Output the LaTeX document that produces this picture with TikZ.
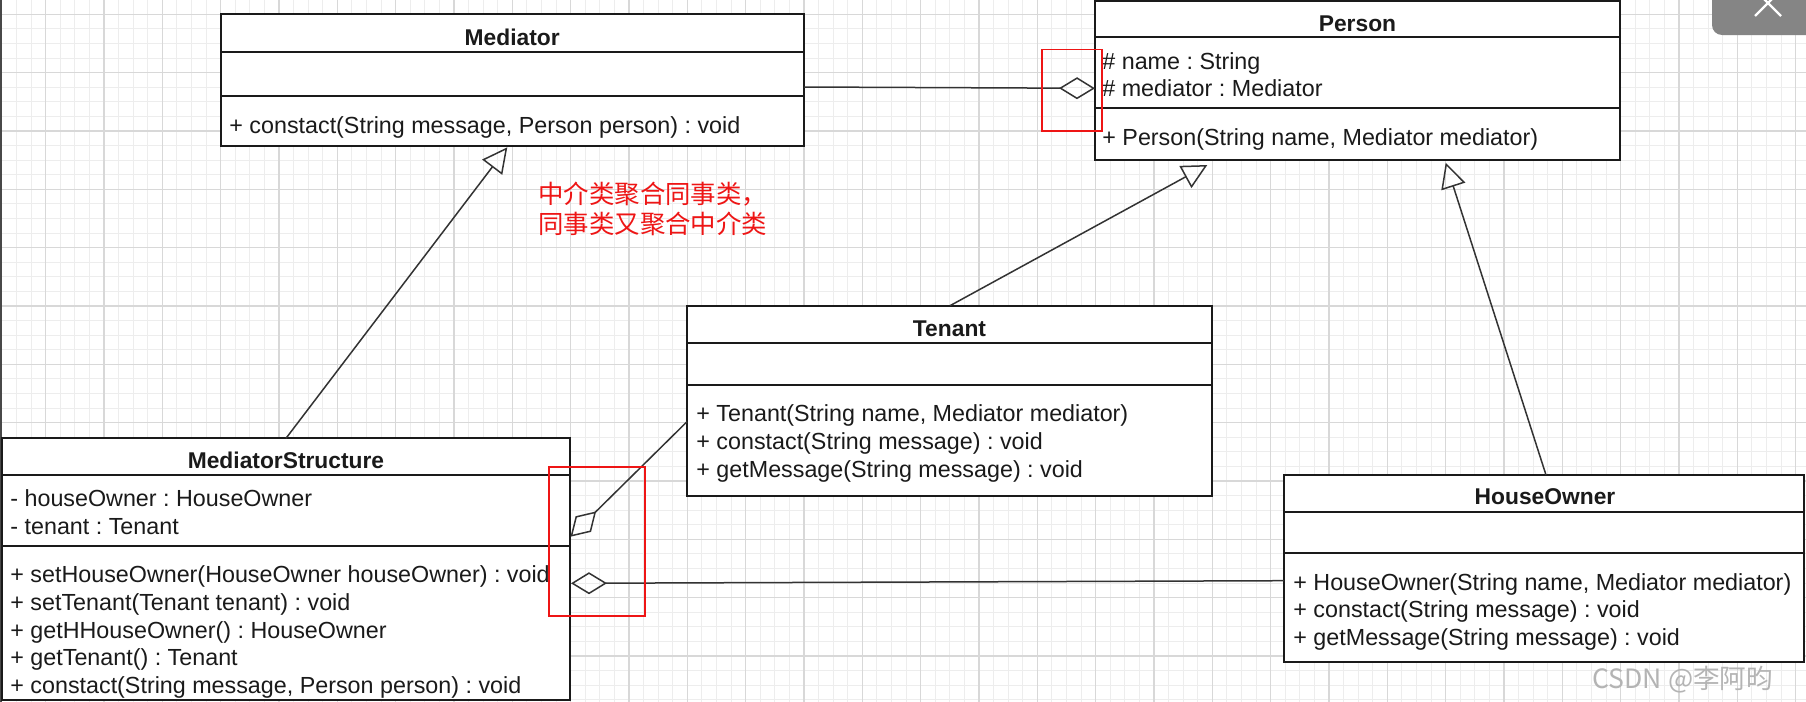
\documentclass[tikz,border=0pt]{standalone}
\usepackage{fontspec}
\setmainfont{Liberation Sans}
\newfontfamily\cjk{Noto Sans CJK SC}
\usetikzlibrary{arrows.meta,calc}
\definecolor{gridminor}{HTML}{EDEDED}
\definecolor{gridmajor}{HTML}{D8D8D8}
\definecolor{ink}{HTML}{1A1A1A}
\definecolor{lineink}{HTML}{333333}
\definecolor{notered}{HTML}{EE1515}
\definecolor{wmark}{HTML}{B4B4B4}
\definecolor{closebg}{HTML}{858585}
\frenchspacing
\begin{document}
\begin{tikzpicture}[x=0.5pt,y=-0.5pt,
  classbox/.style={draw=ink, line width=1pt, fill=white, inner sep=0pt, outer sep=0pt, anchor=north west},
  divider/.style={draw=ink, line width=1pt},
  title/.style={font=\fontsize{11.4}{13}\selectfont\bfseries, text=ink, anchor=base, inner sep=0pt},
  member/.style={font=\fontsize{11.65}{13}\selectfont, text=ink, anchor=base west, inner sep=0pt},
  conn/.style={draw=lineink, line width=0.75pt},
  gen/.style={conn, -{Triangle[open, length=12.5pt, width=12.5pt]}},
  aggstart/.style={conn, {Diamond[open, length=18pt, width=11pt]}-},
  aggend/.style={conn, -{Diamond[open, length=18pt, width=11pt]}},
  hl/.style={draw=notered, line width=0.8pt},
  notetext/.style={font=\cjk\fontsize{12.7}{14}\selectfont, text=notered, anchor=base west, inner sep=0pt},
]
\useasboundingbox (0,0) rectangle (1806,702);
\clip (0,0) rectangle (1806,702);
\fill[white] (0,0) rectangle (1806,702);
% grid
\foreach \i in {0,...,124} { \draw[gridminor, line width=0.5pt] ({1.9+\i*14.583},0) -- ++(0,702); }
\foreach \i in {0,...,49} { \draw[gridminor, line width=0.5pt] (0,{-0.28+\i*14.583}) -- ++(1806,0); }
\foreach \i in {0,...,30} { \draw[gridmajor, line width=0.7pt] ({45.6+\i*58.333},0) -- ++(0,702); }
\foreach \i in {0,...,12} { \draw[gridmajor, line width=0.7pt] (0,{14.3+\i*58.333}) -- ++(1806,0); }
\draw[ink!80, line width=0.8pt] (0.8,0) -- (0.8,702);

% Mediator
\node[classbox, minimum width=291.6pt, minimum height=65.7pt] (med) at (220.6,14.3) {};
\draw[divider] (med.north west) ++(0,38) -- ++(583.2,0);
\draw[divider] (med.north west) ++(0,81.7) -- ++(583.2,0);
\node[title] (medT) at (512.2,45) {Mediator};
\node[member] (medM1) at (229,133.5) {+ constact(String message, Person person) : void};

% Person
\node[classbox, minimum width=262.5pt, minimum height=79.5pt] (per) at (1095,1) {};
\draw[divider] (per.north west) ++(0,36.3) -- ++(525,0);
\draw[divider] (per.north west) ++(0,106.7) -- ++(525,0);
\node[title] (perT) at (1357.5,31) {Person};
\node[member] (perA1) at (1102,69) {\# name : String};
\node[member] (perA2) at (1102,96.5) {\# mediator : Mediator};
\node[member] (perM1) at (1102,145.5) {+ Person(String name, Mediator mediator)};

% Tenant
\node[classbox, minimum width=262.5pt, minimum height=95pt] (ten) at (687,305.7) {};
\draw[divider] (ten.north west) ++(0,37) -- ++(525,0);
\draw[divider] (ten.north west) ++(0,79.3) -- ++(525,0);
\node[title] (tenT) at (949.5,336.5) {Tenant};
\node[member] (tenM1) at (696,421) {+ Tenant(String name, Mediator mediator)};
\node[member] (tenM2) at (696,449) {+ constact(String message) : void};
\node[member] (tenM3) at (696,477) {+ getMessage(String message) : void};

% MediatorStructure
\node[classbox, minimum width=284pt, minimum height=130.85pt] (ms) at (2,438.3) {};
\draw[divider] (ms.north west) ++(0,36.7) -- ++(568,0);
\draw[divider] (ms.north west) ++(0,107.4) -- ++(568,0);
\node[title] (msT) at (286,468) {MediatorStructure};
\node[member] (msA1) at (10,506) {- houseOwner : HouseOwner};
\node[member] (msA2) at (10,534) {- tenant : Tenant};
\node[member] (msM1) at (10,582) {+ setHouseOwner(HouseOwner houseOwner) : void};
\node[member] (msM2) at (10,610) {+ setTenant(Tenant tenant) : void};
\node[member] (msM3) at (10,638) {+ getHHouseOwner() : HouseOwner};
\node[member] (msM4) at (10,665.5) {+ getTenant() : Tenant};
\node[member] (msM5) at (10,693) {+ constact(String message, Person person) : void};

% HouseOwner
\node[classbox, minimum width=260pt, minimum height=93.65pt] (ho) at (1284,475) {};
\draw[divider] (ho.north west) ++(0,37.3) -- ++(520,0);
\draw[divider] (ho.north west) ++(0,78.3) -- ++(520,0);
\node[title] (hoT) at (1545,504) {HouseOwner};
\node[member] (hoM1) at (1293,590) {+ HouseOwner(String name, Mediator mediator)};
\node[member] (hoM2) at (1293,617.5) {+ constact(String message) : void};
\node[member] (hoM3) at (1293,645) {+ getMessage(String message) : void};

% connectors
\draw[aggend] ($(med.north east)+(0,72.7)$) -- ($(per.north west)+(0,87.3)$);
\draw[gen] ($(ms.north west)+(284,0)$) -- ($(med.south west)+(286.7,1.6)$);
\draw[gen] ($(ten.north west)+(263,0)$) -- ($(per.south west)+(112.3,5)$);
\draw[gen] ($(ho.north west)+(262,0)$) -- ($(per.south west)+(350.7,2.7)$);
\draw[aggstart] ($(ms.north east)+(0.5,98.4)$) -- ($(ten.north west)+(0,116)$);
\draw[aggstart] ($(ms.north east)+(1,145)$) -- ($(ho.north west)+(0,105.7)$);

% red highlight boxes
\draw[hl] (1041.7,49.3) rectangle (1101.7,130.7);
\draw[hl] (549,466.7) rectangle (645,616);

% note
\node[notetext] (note1) at (538,203) {中介类聚合同事类，};
\node[notetext] (note2) at (538,233) {同事类又聚合中介类};

% watermark
\node[font=\cjk\fontsize{13.3}{15}\selectfont, text=wmark, anchor=base west, inner sep=0pt] (wm) at (1592,688) {CSDN @李阿昀};

% close button
\fill[closebg, rounded corners=5pt] (1712,-20) rectangle (1840,35);
\draw[white, line width=1.2pt] (1755,-10) -- (1781,16);
\draw[white, line width=1.2pt] (1781,-10) -- (1755,16);
\end{tikzpicture}
\end{document}
